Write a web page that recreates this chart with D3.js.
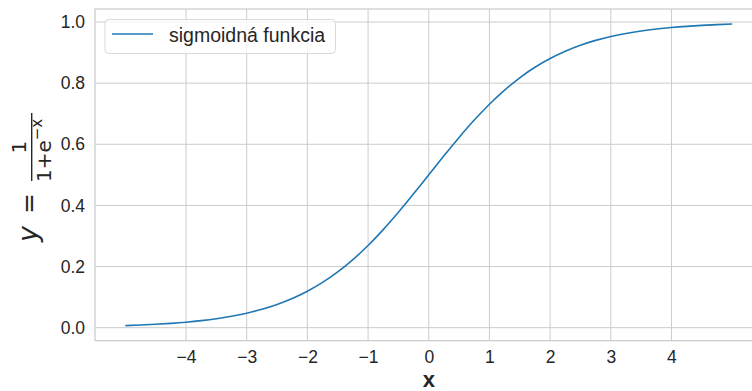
<!DOCTYPE html>
<html>
<head>
<meta charset="utf-8">
<script src="https://cdn.jsdelivr.net/npm/d3@7"></script>
<style>
  body { margin: 0; background: #fff; }
  svg { display: block; }
</style>
</head>
<body>
<div id="chart"></div>
<script>
// values
var xs = [-5, -4.75, -4.5, -4.25, -4, -3.75, -3.5, -3.25, -3, -2.75, -2.5, -2.25, -2, -1.75, -1.5, -1.25, -1, -0.75, -0.5, -0.25,
          0, 0.25, 0.5, 0.75, 1, 1.25, 1.5, 1.75, 2, 2.25, 2.5, 2.75, 3, 3.25, 3.5, 3.75, 4, 4.25, 4.5, 4.75, 5];
var ys = [0.0067, 0.0086, 0.0110, 0.0141, 0.0180, 0.0230, 0.0293, 0.0373, 0.0474, 0.0601, 0.0759, 0.0954, 0.1192, 0.1480, 0.1824, 0.2227, 0.2689, 0.3208, 0.3775, 0.4378,
          0.5, 0.5622, 0.6225, 0.6792, 0.7311, 0.7773, 0.8176, 0.8520, 0.8808, 0.9046, 0.9241, 0.9399, 0.9526, 0.9627, 0.9707, 0.9770, 0.9820, 0.9859, 0.9890, 0.9914, 0.9933];
var xTicks = [-4, -3, -2, -1, 0, 1, 2, 3, 4];
var yTicks = [0, 0.2, 0.4, 0.6, 0.8, 1.0];
var seriesName = "sigmoidná funkcia";

var W = 752, H = 391;
var pLeft = 95, pRight = 762.5, pTop = 9, pBottom = 340.7;
var ink = "#262626", gridCol = "#cccccc", lineCol = "#1f77b4";

var svg = d3.select("#chart").append("svg")
    .attr("width", W)
    .attr("height", H);

var x = d3.scaleLinear().domain([-5.5, 5.5]).range([pLeft, pRight]);
var y = d3.scaleLinear().domain([-0.0426, 1.0426]).range([pBottom, pTop]);

// grid
svg.append("g").selectAll("line")
    .data(xTicks).enter().append("line")
    .attr("x1", d => x(d)).attr("x2", d => x(d))
    .attr("y1", pTop).attr("y2", pBottom)
    .attr("stroke", gridCol).attr("stroke-width", 1);
svg.append("g").selectAll("line")
    .data(yTicks).enter().append("line")
    .attr("x1", pLeft).attr("x2", pRight)
    .attr("y1", d => y(d)).attr("y2", d => y(d))
    .attr("stroke", gridCol).attr("stroke-width", 1);

// frame
svg.append("rect")
    .attr("x", pLeft).attr("y", pTop)
    .attr("width", pRight - pLeft).attr("height", pBottom - pTop)
    .attr("fill", "none").attr("stroke", gridCol).attr("stroke-width", 1.25);

// axes (labels only)
var xAxis = svg.append("g")
    .attr("transform", "translate(0," + pBottom + ")")
    .call(d3.axisBottom(x).tickValues(xTicks).tickSize(0).tickPadding(10)
        .tickFormat(d => d < 0 ? "\u2212" + Math.abs(d) : d));
var yAxis = svg.append("g")
    .attr("transform", "translate(" + pLeft + ",0)")
    .call(d3.axisLeft(y).tickValues(yTicks).tickSize(0).tickPadding(10).tickFormat(d3.format(".1f")));
[xAxis, yAxis].forEach(function (a) {
    a.select(".domain").remove();
    a.selectAll("text")
        .style("font-family", "'Liberation Sans', Arial, sans-serif")
        .style("font-size", "17.5px")
        .attr("fill", ink);
});

// curve
var pts = xs.map((v, i) => [v, ys[i]]);
svg.append("path")
    .datum(pts)
    .attr("fill", "none")
    .attr("stroke", lineCol)
    .attr("stroke-width", 1.6)
    .attr("d", d3.line().x(d => x(d[0])).y(d => y(d[1])).curve(d3.curveMonotoneX));

// x label
svg.append("text")
    .attr("x", x(0)).attr("y", 386.5)
    .attr("text-anchor", "middle")
    .style("font-family", "'Liberation Sans', Arial, sans-serif")
    .style("font-size", "22px")
    .style("font-weight", "bold")
    .attr("fill", ink)
    .text("x");

// y label: y = 1 / (1 + e^-x), rotated
var yl = svg.append("g")
    .attr("transform", "translate(37,250) rotate(-90)")
    .style("font-family", "'DejaVu Sans', sans-serif")
    .attr("fill", ink);
yl.append("text")
    .attr("x", 8).attr("y", 0)
    .style("font-size", "27px").style("font-style", "italic")
    .text("y");
yl.append("text")
    .attr("x", 36).attr("y", 0)
    .style("font-size", "25px")
    .text("=");
yl.append("line")
    .attr("x1", 69).attr("x2", 137)
    .attr("y1", -5.3).attr("y2", -5.3)
    .attr("stroke", ink).attr("stroke-width", 1.4);
yl.append("text")
    .attr("x", 103).attr("y", -11)
    .attr("text-anchor", "middle")
    .style("font-size", "20px")
    .text("1");
var den = yl.append("text")
    .attr("x", 68).attr("y", 13.5)
    .style("font-size", "20px");
den.append("tspan").text("1+e");
den.append("tspan").attr("dy", -8.5).style("font-size", "15px").text("\u2212x");

// legend
var lg = svg.append("g");
lg.append("rect")
    .attr("x", 105).attr("y", 19.5)
    .attr("width", 230.5).attr("height", 34)
    .attr("rx", 4)
    .attr("fill", "#ffffff").attr("fill-opacity", 0.8)
    .attr("stroke", "#d9d9d9").attr("stroke-width", 1);
lg.append("line")
    .attr("x1", 112).attr("x2", 153)
    .attr("y1", 34).attr("y2", 34)
    .attr("stroke", lineCol).attr("stroke-width", 1.6);
lg.append("text")
    .attr("x", 169).attr("y", 41.7)
    .style("font-family", "'Liberation Sans', Arial, sans-serif")
    .style("font-size", "19.5px")
    .attr("fill", ink)
    .text(seriesName);
</script>
</body>
</html>
